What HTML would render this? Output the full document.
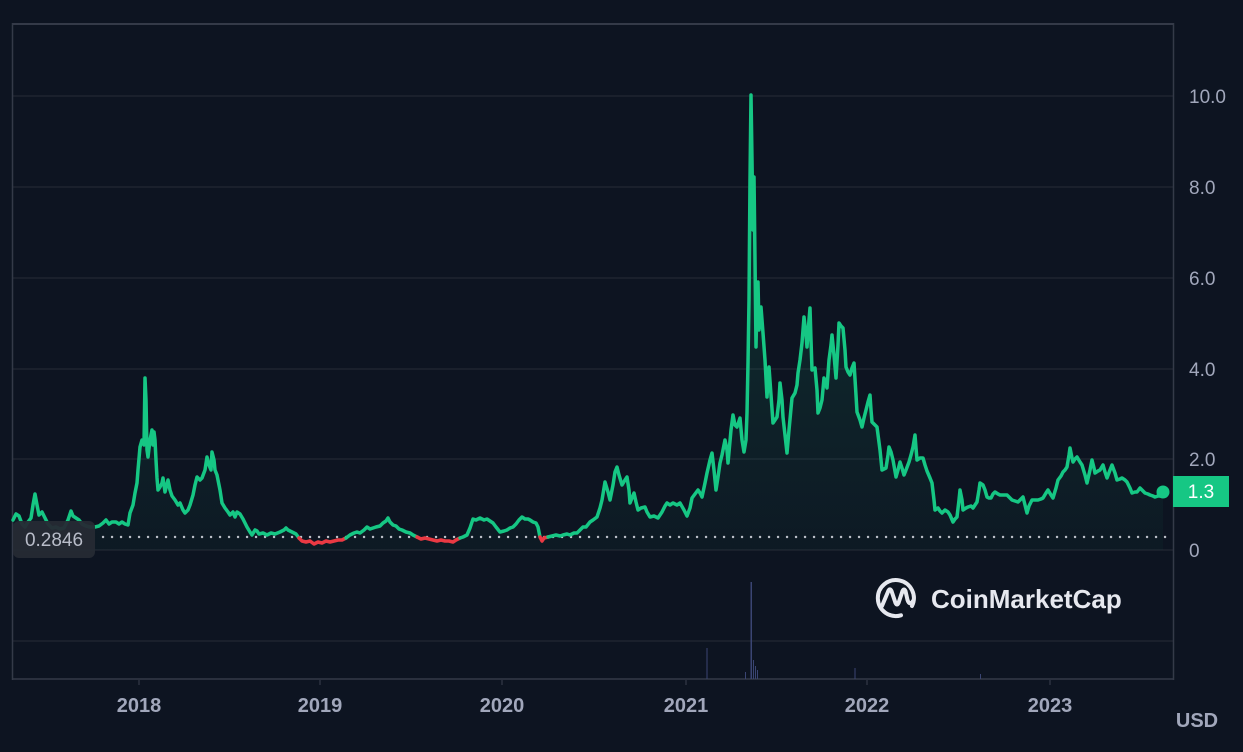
<!DOCTYPE html>
<html><head><meta charset="utf-8"><style>
html,body{margin:0;padding:0;background:#0d1421;}
body{width:1243px;height:752px;overflow:hidden;}
svg{display:block;}
text{font-family:"Liberation Sans",sans-serif;}
</style></head><body>
<svg width="1243" height="752" viewBox="0 0 1243 752" xmlns="http://www.w3.org/2000/svg">
<defs>
<linearGradient id="fg2" x1="0" y1="95" x2="0" y2="550" gradientUnits="userSpaceOnUse">
<stop offset="0" stop-color="#16c784" stop-opacity="0.18"/>
<stop offset="1" stop-color="#16c784" stop-opacity="0.03"/>
</linearGradient>
</defs>
<rect x="0" y="0" width="1243" height="752" fill="#0d1421"/>
<!-- grid -->
<g stroke="#222734" stroke-width="1.2">
<line x1="12" y1="96" x2="1173" y2="96"/>
<line x1="12" y1="187" x2="1173" y2="187"/>
<line x1="12" y1="278" x2="1173" y2="278"/>
<line x1="12" y1="369" x2="1173" y2="369"/>
<line x1="12" y1="459" x2="1173" y2="459"/>
<line x1="12" y1="550" x2="1173" y2="550"/>
<line x1="12" y1="641" x2="1173" y2="641"/>
</g>
<!-- frame -->
<g stroke="#343a48" fill="none">
<line x1="12" y1="24" x2="1174" y2="24" stroke-width="2"/>
<line x1="12.5" y1="23" x2="12.5" y2="680" stroke-width="1.5"/>
<line x1="1173.5" y1="23" x2="1173.5" y2="680" stroke-width="1.5"/>
<line x1="12" y1="679" x2="1174" y2="679" stroke-width="1.5"/>
</g>
<!-- ticks -->
<g stroke="#343a48" stroke-width="1.2">
<line x1="139" y1="680" x2="139" y2="685"/>
<line x1="320" y1="680" x2="320" y2="685"/>
<line x1="502" y1="680" x2="502" y2="685"/>
<line x1="686" y1="680" x2="686" y2="685"/>
<line x1="867" y1="680" x2="867" y2="685"/>
<line x1="1050" y1="680" x2="1050" y2="685"/>
</g>
<!-- volume -->
<g fill="#3a4573">
<rect x="706.5" y="648" width="1" height="31"/>
<rect x="750.5" y="582" width="1.5" height="97"/>
<rect x="753" y="660" width="1" height="19"/>
<rect x="755" y="666" width="1" height="13"/>
<rect x="757" y="670" width="1" height="9"/>
<rect x="745" y="672" width="1" height="7"/>
<rect x="854.5" y="668" width="1" height="11"/>
<rect x="980" y="674" width="1" height="5"/>
</g>
<!-- area -->
<polygon fill="url(#fg2)" points="13,550 13,520 16,514 19,516 22,524 25,527 28,522 31,518 33,505 35,494 37,505 39,515 42,512 45,518 48,524 52,528 56,527 60,529 64,528 68,520 71,511 73,516 76,518 79,520 82,524 86,526 90,527 95,527 99,526 103,523 106,520 109,524 112,522 116,522 119,524 122,522 125,524 128,525 130,513 133,505 135,493 137,483 138,470 140,447 142,440 144,445 145,378 146,400 147,450 148,457 150,440 152,430 153,445 154,432 155,440 156,460 157,478 158,490 160,487 162,483 163,478 165,492 168,480 170,490 172,496 175,500 178,505 180,503 183,510 185,513 188,510 190,505 193,495 195,485 197,477 200,480 202,478 205,470 207,457 209,465 211,470 212,452 214,460 215,470 217,475 219,485 220,490 222,503 225,508 228,512 230,515 233,512 235,517 237,512 240,514 243,519 247,527 250,532 252,535 255,530 257,531 259,534 263,533 267,535 271,533 275,534 280,532 284,530 286,528 288,530 292,532 296,534 299,538 302,541 306,542 310,541 314,544 318,542 322,543 326,541 330,542 334,541 338,540 342,540 346,538 350,535 354,533 357,532 360,533 364,530 367,527 370,529 373,528 376,527 380,526 383,523 386,521 388,518 390,522 393,525 396,526 399,529 402,530 406,532 410,533 413,535 417,537 421,539 425,538 429,539 433,540 437,541 441,540 445,541 449,541 453,542 456,540 460,538 463,537 467,535 470,528 473,519 476,520 480,518 484,520 487,519 490,521 493,523 496,527 500,532 504,531 507,530 510,528 513,527 516,524 519,520 522,517 525,519 528,519 530,520 533,522 536,523 538,527 540,537 542,541 544,538 548,537 552,536 556,535 560,536 563,535 567,534 570,535 574,533 577,533 580,530 583,527 586,527 590,522 593,520 597,517 600,508 602,500 605,482 608,492 610,500 613,485 615,472 617,467 619,475 622,485 625,480 627,477 629,490 630,503 632,498 634,493 636,502 638,510 641,508 645,507 647,512 650,517 654,516 658,518 662,512 665,506 667,503 670,505 673,503 677,505 680,503 684,510 687,516 690,508 692,498 695,494 698,490 700,493 702,497 705,483 707,473 710,460 712,453 714,470 716,490 718,477 720,463 722,455 725,440 727,450 728,463 731,430 733,415 735,425 737,427 740,418 742,440 744,452 746,440 747,413 748,363 749,300 750,180 751,95 752,160 753,230 754,177 755,260 756,347 757,300 758,282 759,330 760,320 761,307 762,320 763,333 765,360 767,397 768,380 769,367 771,395 773,423 775,420 777,417 779,400 780,383 782,400 783,417 785,435 787,453 789,430 792,398 795,393 797,385 798,373 800,360 802,343 804,317 806,335 807,347 809,320 810,308 811,340 812,370 815,368 817,390 818,413 820,408 822,400 824,378 827,388 829,360 831,345 832,335 834,355 836,378 838,345 839,323 841,326 843,328 845,350 846,367 848,372 850,375 852,368 854,363 856,395 857,412 860,420 862,427 864,418 866,410 868,402 870,395 871,410 872,422 875,425 877,427 880,450 882,470 884,469 886,468 888,455 889,447 891,452 893,460 896,477 898,470 900,462 902,468 904,475 906,470 909,462 911,455 913,447 915,435 916,448 917,460 920,458 923,458 925,465 927,471 930,478 932,483 934,500 935,510 938,508 940,511 942,513 945,510 948,512 950,515 953,522 955,519 957,517 959,500 960,490 962,500 963,510 966,508 968,507 971,506 973,508 975,505 977,502 979,490 980,483 983,485 985,490 987,497 989,498 991,498 993,494 995,492 998,494 1000,495 1004,495 1007,495 1010,498 1012,500 1015,501 1018,502 1021,499 1023,497 1025,505 1027,513 1029,506 1032,500 1035,500 1038,500 1041,499 1043,498 1046,493 1048,490 1051,495 1053,498 1056,488 1058,480 1061,476 1063,472 1065,470 1067,467 1069,455 1070,448 1072,458 1073,462 1075,459 1077,457 1080,462 1082,465 1085,475 1087,483 1090,470 1092,460 1094,468 1095,473 1098,471 1100,470 1103,465 1105,472 1107,478 1110,470 1112,465 1115,473 1117,480 1120,479 1122,478 1125,480 1127,482 1130,488 1132,493 1135,492 1137,492 1140,488 1143,491 1145,493 1148,494 1150,495 1153,496 1155,497 1158,496 1160,496 1163,492 1163,550"/>
<!-- dotted price line -->
<line x1="103" y1="537" x2="1170" y2="537" stroke="#d0d3db" stroke-width="2.4" stroke-dasharray="0.1 8.9" stroke-linecap="round" opacity="0.9"/>
<!-- price line -->
<g fill="none" stroke-width="3.5" stroke-linejoin="round" stroke-linecap="round">
<polyline stroke="#16c784" points="13,520 16,514 19,516 22,524 25,527 28,522 31,518 33,505 35,494 37,505 39,515 42,512 45,518 48,524 52,528 56,527 60,529 64,528 68,520 71,511 73,516 76,518 79,520 82,524 86,526 90,527 95,527 99,526 103,523 106,520 109,524 112,522 116,522 119,524 122,522 125,524 128,525 130,513 133,505 135,493 137,483 138,470 140,447 142,440 144,445 145,378 146,400 147,450 148,457 150,440 152,430 153,445 154,432 155,440 156,460 157,478 158,490 160,487 162,483 163,478 165,492 168,480 170,490 172,496 175,500 178,505 180,503 183,510 185,513 188,510 190,505 193,495 195,485 197,477 200,480 202,478 205,470 207,457 209,465 211,470 212,452 214,460 215,470 217,475 219,485 220,490 222,503 225,508 228,512 230,515 233,512 235,517 237,512 240,514 243,519 247,527 250,532 252,535 255,530 257,531 259,534 263,533 267,535 271,533 275,534 280,532 284,530 286,528 288,530 292,532 296,534 299,538"/>
<polyline stroke="#ea3943" points="299,538 302,541 306,542 310,541 314,544 318,542 322,543 326,541 330,542 334,541 338,540 342,540 346,538"/>
<polyline stroke="#16c784" points="346,538 350,535 354,533 357,532 360,533 364,530 367,527 370,529 373,528 376,527 380,526 383,523 386,521 388,518 390,522 393,525 396,526 399,529 402,530 406,532 410,533 413,535 417,537"/>
<polyline stroke="#ea3943" points="417,537 421,539 425,538 429,539 433,540 437,541 441,540 445,541 449,541 453,542 456,540 460,538"/>
<polyline stroke="#16c784" points="460,538 463,537 467,535 470,528 473,519 476,520 480,518 484,520 487,519 490,521 493,523 496,527 500,532 504,531 507,530 510,528 513,527 516,524 519,520 522,517 525,519 528,519 530,520 533,522 536,523 538,527 540,537"/>
<polyline stroke="#ea3943" points="540,537 542,541 544,538 548,537"/>
<polyline stroke="#16c784" points="548,537 552,536 556,535 560,536 563,535 567,534 570,535 574,533 577,533 580,530 583,527 586,527 590,522 593,520 597,517 600,508 602,500 605,482 608,492 610,500 613,485 615,472 617,467 619,475 622,485 625,480 627,477 629,490 630,503 632,498 634,493 636,502 638,510 641,508 645,507 647,512 650,517 654,516 658,518 662,512 665,506 667,503 670,505 673,503 677,505 680,503 684,510 687,516 690,508 692,498 695,494 698,490 700,493 702,497 705,483 707,473 710,460 712,453 714,470 716,490 718,477 720,463 722,455 725,440 727,450 728,463 731,430 733,415 735,425 737,427 740,418 742,440 744,452 746,440 747,413 748,363 749,300 750,180 751,95 752,160 753,230 754,177 755,260 756,347 757,300 758,282 759,330 760,320 761,307 762,320 763,333 765,360 767,397 768,380 769,367 771,395 773,423 775,420 777,417 779,400 780,383 782,400 783,417 785,435 787,453 789,430 792,398 795,393 797,385 798,373 800,360 802,343 804,317 806,335 807,347 809,320 810,308 811,340 812,370 815,368 817,390 818,413 820,408 822,400 824,378 827,388 829,360 831,345 832,335 834,355 836,378 838,345 839,323 841,326 843,328 845,350 846,367 848,372 850,375 852,368 854,363 856,395 857,412 860,420 862,427 864,418 866,410 868,402 870,395 871,410 872,422 875,425 877,427 880,450 882,470 884,469 886,468 888,455 889,447 891,452 893,460 896,477 898,470 900,462 902,468 904,475 906,470 909,462 911,455 913,447 915,435 916,448 917,460 920,458 923,458 925,465 927,471 930,478 932,483 934,500 935,510 938,508 940,511 942,513 945,510 948,512 950,515 953,522 955,519 957,517 959,500 960,490 962,500 963,510 966,508 968,507 971,506 973,508 975,505 977,502 979,490 980,483 983,485 985,490 987,497 989,498 991,498 993,494 995,492 998,494 1000,495 1004,495 1007,495 1010,498 1012,500 1015,501 1018,502 1021,499 1023,497 1025,505 1027,513 1029,506 1032,500 1035,500 1038,500 1041,499 1043,498 1046,493 1048,490 1051,495 1053,498 1056,488 1058,480 1061,476 1063,472 1065,470 1067,467 1069,455 1070,448 1072,458 1073,462 1075,459 1077,457 1080,462 1082,465 1085,475 1087,483 1090,470 1092,460 1094,468 1095,473 1098,471 1100,470 1103,465 1105,472 1107,478 1110,470 1112,465 1115,473 1117,480 1120,479 1122,478 1125,480 1127,482 1130,488 1132,493 1135,492 1137,492 1140,488 1143,491 1145,493 1148,494 1150,495 1153,496 1155,497 1158,496 1160,496 1163,492"/>
</g>
<circle cx="1163" cy="492" r="6.5" fill="#16c784"/>
<!-- current price label -->
<rect x="1173" y="476" width="56" height="31" fill="#16c784"/>
<text x="1201" y="498" font-size="19" fill="#ffffff" text-anchor="middle">1.3</text>
<!-- low label -->
<rect x="13" y="521" width="82" height="37" rx="6" fill="#262a34" opacity="0.95"/>
<text x="54" y="546" font-size="19" fill="#b8bcc8" text-anchor="middle">0.2846</text>
<!-- y axis labels -->
<g font-size="19" fill="#a1a7bb">
<text x="1189" y="103">10.0</text>
<text x="1189" y="194">8.0</text>
<text x="1189" y="285">6.0</text>
<text x="1189" y="376">4.0</text>
<text x="1189" y="466">2.0</text>
<text x="1189" y="557">0</text>
</g>
<!-- x axis labels -->
<g font-size="20" font-weight="bold" fill="#a1a7bb" text-anchor="middle">
<text x="139" y="712">2018</text>
<text x="320" y="712">2019</text>
<text x="502" y="712">2020</text>
<text x="686" y="712">2021</text>
<text x="867" y="712">2022</text>
<text x="1050" y="712">2023</text>
</g>
<text x="1197" y="727" font-size="20" font-weight="bold" fill="#a1a7bb" text-anchor="middle">USD</text>
<!-- logo -->
<g fill="none" stroke="#e6e8ef" stroke-width="4" stroke-linecap="round" stroke-linejoin="round">
<path d="M 912 606 A 18 18 0 1 0 901 615.3"/>
<path d="M 882 606 L 888.5 590.5 Q 890 588 891.5 591 L 895.5 603 Q 897 606 898.5 603 L 902.5 591 Q 904 588 905.5 591 L 907.5 600 Q 909.5 606 913 601"/>
</g>
<text x="931" y="608" font-size="26" font-weight="bold" fill="#e6e8ef">CoinMarketCap</text>
</svg>
</body></html>
